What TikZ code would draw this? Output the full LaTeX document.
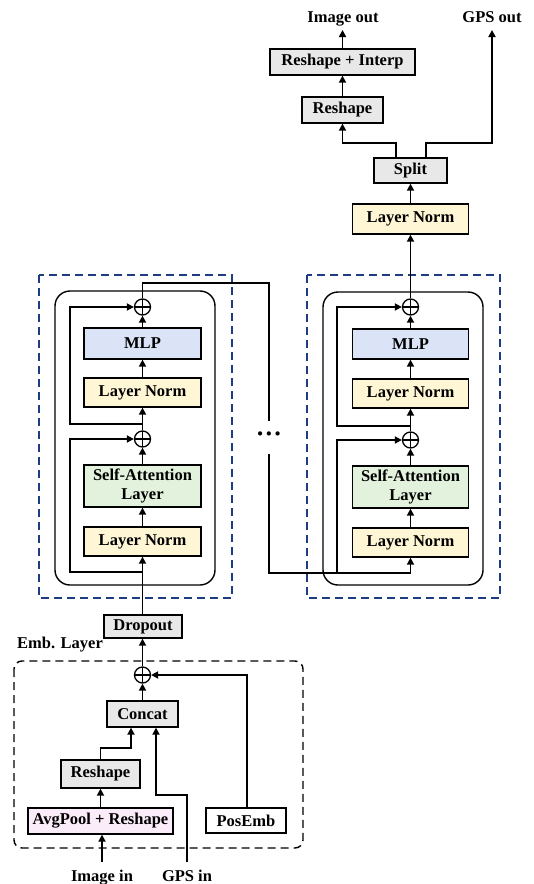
\documentclass[tikz,border=0pt]{standalone}
\usepackage{fontspec}
\setmainfont{Liberation Serif}
\usetikzlibrary{arrows.meta,calc}
\definecolor{lnyellow}{RGB}{254,246,212}
\definecolor{sagreen}{RGB}{226,242,220}
\definecolor{mlpblue}{RGB}{218,228,246}
\definecolor{graybox}{RGB}{232,232,232}
\definecolor{pinkbox}{RGB}{251,236,250}
\definecolor{dashblue}{RGB}{30,60,130}
\begin{document}
\begin{tikzpicture}[x=1pt,y=-1pt,
  font=\fontsize{16.5}{19.5}\selectfont\bfseries,
  box/.style={draw, line width=1.3pt, inner sep=0pt, align=center},
  ln/.style={line width=1.7pt},
  arr/.style={line width=1.7pt, -{Triangle[length=7pt,width=7pt]}},
  oplus/.style={circle, draw, line width=1.3pt, minimum size=16pt, inner sep=0pt,
    path picture={\draw[line width=1.3pt] (path picture bounding box.north) -- (path picture bounding box.south)
      (path picture bounding box.west) -- (path picture bounding box.east);}},
  txt/.style={inner sep=1pt, anchor=base},
  bluedash/.style={draw=dashblue, line width=1.4pt, dash pattern=on 8pt off 5pt},
  blackdash/.style={draw=black, line width=1.4pt, dash pattern=on 8pt off 5pt, rounded corners=8pt},
  block/.style={draw, line width=1.4pt, rounded corners=15pt}
]
\useasboundingbox (0,0) rectangle (534,884);

% ---------- block frames ----------
\draw[bluedash] (39,275) rectangle (232,598);
\draw[block] (55,291) rectangle (215,585);
\draw[bluedash] (307,275) rectangle (500,598);
\draw[block] (323,292) rectangle (483,585);
\draw[blackdash] (14,661) rectangle (303,848);

% ---------- left transformer block ----------
\node[box, fill=lnyellow, minimum width=117pt, minimum height=29pt] (ln0L) at (142.5,541.5) {Layer Norm};
\node[box, fill=sagreen, minimum width=117pt, minimum height=42pt] (saL) at (142.5,486) {Self-Attention\\Layer};
\node[oplus] (p0L) at (142.5,439) {};
\node[box, fill=lnyellow, minimum width=117pt, minimum height=29pt] (ln1L) at (142.5,392.5) {Layer Norm};
\node[box, fill=mlpblue, minimum width=117pt, minimum height=31pt] (mlpL) at (142.5,343.5) {MLP};
\node[oplus] (p1L) at (142.5,307) {};

% ---------- right transformer block ----------
\node[box, fill=lnyellow, minimum width=116pt, minimum height=29pt] (ln0R) at (410.5,542.5) {Layer Norm};
\node[box, fill=sagreen, minimum width=116pt, minimum height=42pt] (saR) at (410.5,487) {Self-Attention\\Layer};
\node[oplus] (p0R) at (410.5,440) {};
\node[box, fill=lnyellow, minimum width=116pt, minimum height=29pt] (ln1R) at (410.5,393.5) {Layer Norm};
\node[box, fill=mlpblue, minimum width=116pt, minimum height=30pt] (mlpR) at (410.5,344) {MLP};
\node[oplus] (p1R) at (410.5,307) {};

% ---------- head ----------
\node[box, fill=lnyellow, minimum width=116pt, minimum height=30pt] (lnT) at (410.5,219) {Layer Norm};
\node[box, fill=graybox, minimum width=73pt, minimum height=25pt] (split) at (410.5,170.5) {Split};
\node[box, fill=graybox, minimum width=81pt, minimum height=26pt] (reshT) at (342.5,110) {Reshape};
\node[box, fill=graybox, minimum width=145pt, minimum height=26pt] (ri) at (342.5,62) {Reshape + Interp};
\node[txt] (imgout) at (343,22) {Image out};
\node[txt] (gpsout) at (492,22) {GPS out};

% ---------- embedding ----------
\node[box, fill=graybox, minimum width=78pt, minimum height=23pt] (drop) at (143,626.5) {Dropout};
\node[txt] (emb) at (60,648) {Emb. Layer};
\node[oplus] (pE) at (142.5,675) {};
\node[box, fill=graybox, minimum width=71pt, minimum height=26pt] (concat) at (142.5,714) {Concat};
\node[box, fill=graybox, minimum width=79pt, minimum height=28pt] (reshE) at (100.5,774) {Reshape};
\node[box, fill=pinkbox, minimum width=145pt, minimum height=26pt] (avg) at (100.5,821) {AvgPool + Reshape};
\node[box, fill=white, minimum width=80pt, minimum height=25pt] (pos) at (246,820.5) {PosEmb};
\node[txt] (imgin) at (102,881) {Image in};
\node[txt] (gpsin) at (187,881) {GPS in};

\node[minimum height=32pt, inner sep=0pt, font=\fontsize{26}{26}\selectfont\bfseries] (dots) at (269,437.5) {\textperiodcentered\textperiodcentered\textperiodcentered};

% ---------- coordinates ----------
\coordinate (imgsrc) at (102,862);
\coordinate (gpssrc) at (187,862);
\coordinate (gpsbend) at (187,795);
\coordinate (reshbend) at (100.5,748);
\coordinate (posbend) at (247,675);
\coordinate (j0L) at (142.5,572);
\coordinate (c0L) at (70,572);
\coordinate (j1L) at (142.5,424);
\coordinate (c1L) at (70,424);
\coordinate (tl) at (269,283);
\coordinate (j0R) at (410.5,573);
\coordinate (k0R) at (337,573);
\coordinate (j1R) at (410.5,426);
\coordinate (k1R) at (337,426);
\coordinate (sp1) at (396,158);
\coordinate (sp2) at (426,158);
\coordinate (ioend) at (342.5,30);
\coordinate (goend) at (492,30);

% ---------- embedding connectors ----------
\draw[arr] (imgsrc) -- (avg.south -| imgsrc);
\draw[arr] (avg.north) -- (reshE.south);
\draw[arr] (reshE.north) -- (reshbend) -| ([xshift=-11.5pt]concat.south);
\draw[arr] (gpssrc) -- (gpsbend) -| ([xshift=13.5pt]concat.south);
\draw[arr] (concat.north) -- (pE.south);
\draw[arr] ([xshift=1pt]pos.north) -- (posbend) -- (pE.east);
\draw[arr] (pE.north) -- (drop.south -| pE.north);

% ---------- left block connectors ----------
\draw[arr] (drop.north -| ln0L.south) -- (ln0L.south);
\draw[arr] (j0L) -- (c0L) |- (p0L.west);
\draw[arr] (ln0L.north) -- (saL.south);
\draw[arr] (saL.north) -- (p0L.south);
\draw[arr] (p0L.north) -- (ln1L.south);
\draw[arr] (j1L) -- (c1L) |- (p1L.west);
\draw[arr] (ln1L.north) -- (mlpL.south);
\draw[arr] (mlpL.north) -- (p1L.south);
\draw[ln] (p1L.north) |- (tl) -- (dots.north);

% ---------- right block connectors ----------
\draw[arr] (dots.south) |- (j0R) -- (ln0R.south);
\draw[arr] (k0R) |- (p0R.west);
\draw[arr] (ln0R.north) -- (saR.south);
\draw[arr] (saR.north) -- (p0R.south);
\draw[arr] (p0R.north) -- (ln1R.south);
\draw[arr] (j1R) -- (k1R) |- (p1R.west);
\draw[arr] (ln1R.north) -- (mlpR.south);
\draw[arr] (mlpR.north) -- (p1R.south);

% ---------- head connectors ----------
\draw[arr] (p1R.north) -- (lnT.south);
\draw[arr] (lnT.north) -- (split.south);
\draw[arr] (sp1) -- ++(0,-15) -| (reshT.south);
\draw[arr] (sp2) -- ++(0,-15) -| (goend);
\draw[arr] (reshT.north) -- (ri.south);
\draw[arr] (ri.north) -- (ioend);
\end{tikzpicture}
\end{document}
